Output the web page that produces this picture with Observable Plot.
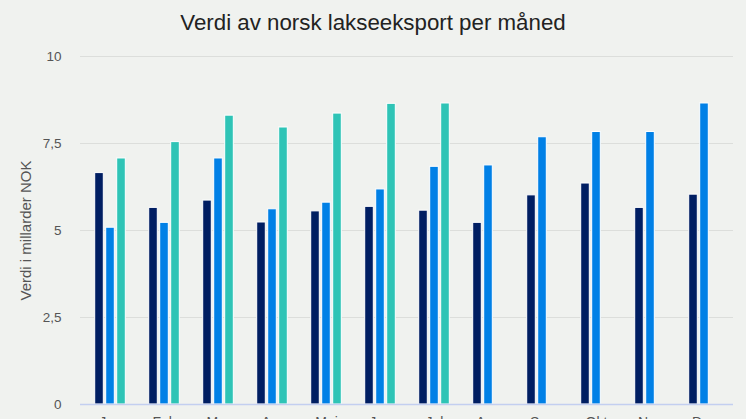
<!DOCTYPE html>
<html>
<head>
<meta charset="utf-8">
<script src="https://cdn.jsdelivr.net/npm/d3@7"></script>
<script src="https://cdn.jsdelivr.net/npm/@observablehq/plot@0.6"></script>
<style>
  html, body { margin: 0; padding: 0; background: #f0f2ef; overflow: hidden; }
  #title { height: 40px; line-height: 46px; text-align: center; font-family: "Liberation Sans", Arial, sans-serif; font-size: 22.3px; color: #222; }
  #chart svg { display: block; }
</style>
</head>
<body>
<div id="title">Verdi av norsk lakseeksport per måned</div>
<div id="chart"></div>
<script>
const months = ["Jan", "Feb", "Mar", "Apr", "Mai", "Jun", "Jul", "Aug", "Sep", "Okt", "Nov", "Des"];
const series = ["2022", "2023", "2024"];
const values2022 = [6.65, 5.65, 5.86, 5.23, 5.55, 5.68, 5.57, 5.22, 6.01, 6.35, 5.65, 6.03];
const values2023 = [5.08, 5.22, 7.07, 5.61, 5.80, 6.18, 6.83, 6.87, 7.68, 7.83, 7.83, 8.65];
const values2024 = [7.07, 7.54, 8.30, 7.96, 8.36, 8.64, 8.65];
const yTicks = [0, 2.5, 5, 7.5, 10];
const colors = ["#001e62", "#0080e6", "#2ec4b6"];

const allValues = [values2022, values2023, values2024];
const data = [];
allValues.forEach((vals, si) => vals.forEach((v, mi) => data.push({month: months[mi], series: series[si], value: v})));

const offsets = [-11, 0, 11];
const barMarks = series.map((s, i) => Plot.barY(data.filter(d => d.series === s), {
  x: "month", y: "value", fill: colors[i], stroke: "white", strokeWidth: 1,
  insetLeft: 22.7, insetRight: 22.7, dx: offsets[i]
}));

const chart = Plot.plot({
  width: 746,
  height: 404,
  marginTop: 16,
  marginBottom: 40,
  marginLeft: 80,
  marginRight: 13,
  style: { background: "transparent", fontFamily: "Liberation Sans, Arial, sans-serif", fontSize: "13px", color: "#555" },
  x: { domain: months, padding: 0, label: null },
  y: { domain: [0, 10], label: null },
  marks: [
    Plot.ruleY(yTicks.filter(t => t > 0), { stroke: "#dcdedb", strokeWidth: 1 }),
    ...barMarks,
    Plot.ruleY([0], { stroke: "#c3cff0", strokeWidth: 1.5 }),
    Plot.axisY({ ticks: yTicks, tickSize: 0, tickPadding: 19, tickFormat: d => String(d).replace(".", ","), label: "Verdi i millarder NOK", labelAnchor: "center", labelArrow: "none", labelOffset: 60, fontSize: 13.5 }),
    Plot.axisX({ tickSize: 0, tickPadding: 13, label: null, fontSize: 14 })
  ]
});
document.getElementById("chart").appendChild(chart);
// enlarge y-axis title text only
chart.querySelectorAll("text").forEach(t => { if (t.textContent === "Verdi i millarder NOK") t.setAttribute("font-size", "15"); });
</script>
</body>
</html>
